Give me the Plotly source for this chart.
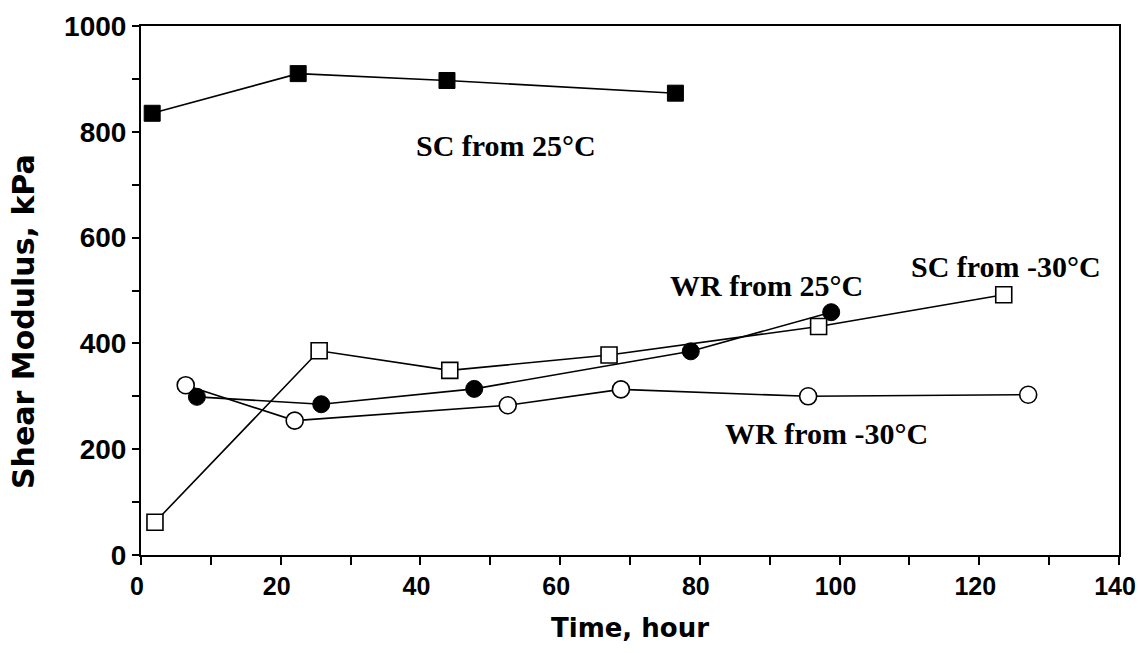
import plotly.graph_objects as go

# Shear modulus vs. time for two mixes and two starting temperatures
sc25_t = [1.6, 22.5, 43.8, 76.5]
sc25_g = [835, 910, 897, 873]

scm30_t = [2.0, 25.5, 44.2, 67.0, 97.0, 123.5]
scm30_g = [62, 386, 349, 378, 432, 492]

wr25_t = [8.0, 25.8, 47.7, 78.7, 98.8]
wr25_g = [299, 285, 314, 385, 459]

wrm30_t = [6.4, 22.0, 52.5, 68.7, 95.5, 127.0]
wrm30_g = [321, 254, 283, 313, 300, 303]

series_labels = ["SC from 25°C", "WR from 25°C", "SC from -30°C", "WR from -30°C"]
label_x = [52.2, 89.5, 123.8, 98.1]
label_y = [775, 509, 546, 229]

x_title = "Time, hour"
y_title = "Shear Modulus, kPa"

fig = go.Figure()

line = dict(color="black", width=1.6)

fig.add_trace(go.Scatter(x=sc25_t, y=sc25_g, mode="lines+markers", line=line,
                         marker=dict(symbol="square", size=16, color="black",
                                     line=dict(color="black", width=1))))
fig.add_trace(go.Scatter(x=scm30_t, y=scm30_g, mode="lines+markers", line=line,
                         marker=dict(symbol="square", size=16, color="white",
                                     line=dict(color="black", width=1.6))))
fig.add_trace(go.Scatter(x=wrm30_t, y=wrm30_g, mode="lines+markers", line=line,
                         marker=dict(symbol="circle", size=17, color="white",
                                     line=dict(color="black", width=1.6))))
fig.add_trace(go.Scatter(x=wr25_t, y=wr25_g, mode="lines+markers", line=line,
                         marker=dict(symbol="circle", size=17, color="black",
                                     line=dict(color="black", width=1))))

# series labels placed next to their curves
for txt, lx, ly in zip(series_labels, label_x, label_y):
    fig.add_annotation(x=lx, y=ly, text="<b>" + txt + "</b>", showarrow=False,
                       font=dict(family="Liberation Serif", size=30, color="black"))

# axis titles as free annotations
fig.add_annotation(xref="paper", yref="paper", x=0.5, y=-0.138,
                   xanchor="center", yanchor="middle", showarrow=False,
                   text="<b>" + x_title + "</b>",
                   font=dict(family="DejaVu Sans", size=26, color="black"))
fig.add_annotation(xref="paper", yref="paper", x=-0.1196, y=0.4405,
                   xanchor="center", yanchor="middle", showarrow=False,
                   textangle=-90, text="<b>" + y_title + "</b>",
                   font=dict(family="DejaVu Sans", size=30, color="black"))

fig.update_layout(
    width=1138, height=653,
    margin=dict(l=141, r=19, t=26, b=98),
    paper_bgcolor="white", plot_bgcolor="white",
    showlegend=False,
    xaxis=dict(range=[0, 140], dtick=20, tick0=0, automargin=False,
               showgrid=False, zeroline=False,
               showline=True, linecolor="black", linewidth=2, mirror=True,
               ticks="outside", ticklen=8, tickwidth=1.5, tickcolor="black",
               minor=dict(dtick=10, ticks="outside", ticklen=8, tickwidth=1.5,
                          tickcolor="black", showgrid=False),
               tickfont=dict(family="Liberation Sans", size=25, color="black"),
               ticklabelshift=-4,
               ticklabeloverflow="allow"),
    yaxis=dict(range=[0, 1000], dtick=200, tick0=0, automargin=False,
               showgrid=False, zeroline=False,
               showline=True, linecolor="black", linewidth=2, mirror=True,
               ticks="outside", ticklen=7, tickwidth=1.5, tickcolor="black",
               minor=dict(dtick=100, ticks="outside", ticklen=7, tickwidth=1.5,
                          tickcolor="black", showgrid=False),
               tickfont=dict(family="Liberation Sans", size=28, color="black")),
)

fig.update_xaxes(tickprefix="<b>", ticksuffix="</b>")
fig.update_yaxes(tickprefix="<b>", ticksuffix="</b>")

fig.write_html("out.html")
